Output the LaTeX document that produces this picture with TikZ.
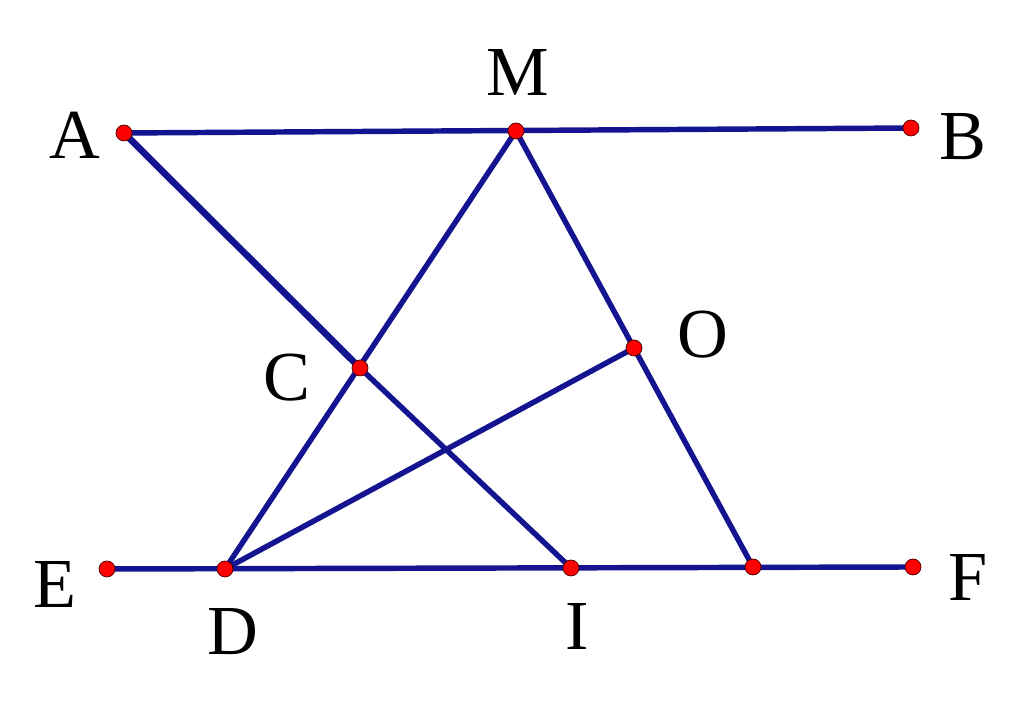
\documentclass[tikz,border=0pt]{standalone}
\usepackage{fontspec}
\setmainfont{Liberation Serif}
\definecolor{navy}{RGB}{20,20,145}
\tikzset{
  seg/.style={draw=navy, line width=3.1pt},
  pt/.style={circle, fill=red, draw=black!70!red, line width=0.4pt, inner sep=0pt, minimum size=0.32cm},
  lbl/.style={font=\fontsize{40}{44}\selectfont, inner sep=0pt}
}
\begin{document}
\begin{tikzpicture}
			\useasboundingbox (0,0) rectangle (20.48,14.06);
			% points
			\coordinate (A) at (2.48,11.40);
			\coordinate (M) at (10.32,11.44);
			\coordinate (B) at (18.22,11.50);
			\coordinate (C) at (7.20,6.70);
			\coordinate (O) at (12.68,7.10);
			\coordinate (E) at (2.14,2.68);
			\coordinate (D) at (4.50,2.68);
			\coordinate (I) at (11.42,2.70);
			\coordinate (G) at (15.06,2.72);
			\coordinate (F) at (18.26,2.72);
			%%%%%%%%%%%%%%%%%%%%%%%%%%%%%%%%
			\draw[seg] (A)--(B);
			\draw[seg] (E)--(F);
			\draw[seg] (M)--(D);
			\draw[seg] (M)--(G);
			\draw[seg] (D)--(O);
			\draw[seg, line width=3.8pt] (A)--(C);
			\draw[seg] (C)--(I);
			%%%%%%%%%%%%%%%%%%%%%%%%%%%%%
			\foreach \p in {A,M,B,C,O,E,D,I,G,F}
				\node[pt] at (\p){};
			\node[lbl] (lA) at (1.50,11.36){A};
			\node[lbl] (lM) at (10.36,12.62){M};
			\node[lbl] (lB) at (19.26,11.32){B};
			\node[lbl] (lC) at (5.74,6.50){C};
			\node[lbl] (lO) at (14.06,7.36){O};
			\node[lbl] (lE) at (1.10,2.38){E};
			\node[lbl] (lD) at (4.66,1.42){D};
			\node[lbl] (lI) at (11.54,1.54){I};
			\node[lbl] (lF) at (19.36,2.52){F};
		\end{tikzpicture}
\end{document}
